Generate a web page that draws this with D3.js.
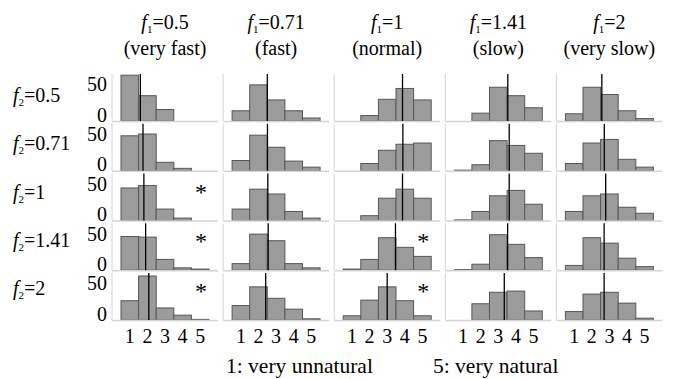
<!DOCTYPE html>
<html><head><meta charset="utf-8">
<script src="https://cdn.jsdelivr.net/npm/d3@7"></script>
</head><body style="margin:0;background:#fff"><svg id="c" width="673" height="379" style="display:block;font-family:'Liberation Serif'"></svg>
<script>
// ---- data ----
const f1Values = ["0.5", "0.71", "1", "1.41", "2"];
const f1Names = ["(very fast)", "(fast)", "(normal)", "(slow)", "(very slow)"];
const f2Values = ["0.5", "0.71", "1", "1.41", "2"];
const scores = [1, 2, 3, 4, 5];
const yTicks = [0, 50];
// counts per rating 1..5, rows = f2, cols = f1
const countsF2_05  = [[76,42,19,0,0],[17,60,35,17,5],[0,9,36,54,35],[0,13,56,42,22],[12,56,44,17,4]];
const countsF2_071 = [[58,61,14,4,0],[17,59,39,16,6],[0,12,34,44,46],[1,10,50,42,29],[12,46,52,19,6]];
const countsF2_1   = [[54,58,19,4,0],[19,52,44,15,4],[0,8,37,52,37],[1,15,41,50,27],[15,41,44,22,12]];
const countsF2_141 = [[56,55,18,4,2],[11,60,49,11,4],[2,18,54,38,23],[1,10,59,43,21],[8,54,45,20,6]];
const countsF2_2   = [[32,73,20,8,1],[24,55,36,18,2],[7,33,55,32,7],[0,27,46,48,15],[14,43,46,28,3]];
const counts = [countsF2_05, countsF2_071, countsF2_1, countsF2_141, countsF2_2];
// mean rating (vertical line) per row
const meansF2_05  = [1.60, 2.50, 3.87, 3.54, 2.57];
const meansF2_071 = [1.75, 2.51, 3.89, 3.62, 2.71];
const meansF2_1   = [1.80, 2.53, 3.87, 3.62, 2.79];
const meansF2_141 = [1.90, 2.55, 3.47, 3.53, 2.70];
const meansF2_2   = [2.08, 2.41, 3.00, 3.34, 2.70];
const means = [meansF2_05, meansF2_071, meansF2_1, meansF2_141, meansF2_2];
// significance marks [row, col]
const starCells = [[2,0],[3,0],[4,0],[3,2],[4,2]];
const captionLeft = "1: very unnatural";
const captionRight = "5: very natural";

// ---- layout ----
const FONT = '"Liberation Serif"';
const svg = d3.select("#c");
const colX = d3.scaleLinear().domain([0, 4]).range([112, 556.4]);
const rowBase = d3.scaleLinear().domain([0, 4]).range([121, 320]);
const panelH = 47, panelW = 106, barOff = 9, barsW = 88;
const FS = "20px";

function txt(sel) {
  return sel.append("text").style("font-family", FONT).style("font-size", FS).style("fill", "#000");
}

const x = d3.scaleBand().domain(scores).range([barOff, barOff + barsW]).padding(0);
const xLin = d3.scaleLinear().domain([0.5, 5.5]).range([barOff, barOff + barsW]);
const y = d3.scaleLinear().domain([0, 78]).range([panelH, 0]);

// column headers
f1Values.forEach((v, i) => {
  const cx = colX(i) + barOff + barsW / 2;
  const t = txt(svg).attr("x", cx).attr("y", 29).attr("text-anchor", "middle");
  t.append("tspan").style("font-style", "italic").text("f");
  t.append("tspan").style("font-size", "11px").attr("dy", 4).text("1");
  t.append("tspan").attr("dy", -4).text("=" + v);
  txt(svg).attr("x", cx).attr("y", 55).attr("text-anchor", "middle").text(f1Names[i]);
});

// row labels
f2Values.forEach((v, j) => {
  const t = txt(svg).attr("x", 13).attr("y", 102 + j * 48.3);
  t.append("tspan").style("font-style", "italic").text("f");
  t.append("tspan").style("font-size", "11px").attr("dy", 4).text("2");
  t.append("tspan").attr("dy", -4).text("=" + v);
});

// panels
counts.forEach((row, j) => {
  row.forEach((vals, i) => {
    const g = svg.append("g").attr("transform", `translate(${colX(i)},${rowBase(j) - panelH})`);
    g.append("line").attr("x1", 0).attr("x2", 0).attr("y1", 0).attr("y2", panelH)
      .attr("stroke", "#d4d4d4").attr("stroke-width", 1);
    g.selectAll("rect.bar").data(scores.map((s, k) => ({s, v: vals[k]})).filter(d => d.v > 0))
      .join("rect").attr("class", "bar")
      .attr("x", d => x(d.s)).attr("width", x.bandwidth())
      .attr("y", d => y(d.v)).attr("height", d => y(0) - y(d.v))
      .attr("fill", "#9b9b9b").attr("stroke", "#575757").attr("stroke-width", 1);
    g.append("line").attr("x1", 0).attr("x2", panelW).attr("y1", panelH + 0.5).attr("y2", panelH + 0.5)
      .attr("stroke", "#d4d4d4").attr("stroke-width", 1.5);
    g.append("line").attr("x1", xLin(means[j][i])).attr("x2", xLin(means[j][i]))
      .attr("y1", 0).attr("y2", panelH).attr("stroke", "#000").attr("stroke-width", 1.3);
    if (i === 0) {
      const ax = g.append("g").call(d3.axisLeft(y).tickValues(yTicks).tickSize(0).tickPadding(5).tickFormat(d3.format("d")));
      ax.select(".domain").remove();
      ax.attr("font-family", null).attr("font-size", null);
      ax.selectAll("text").attr("dy", 0).style("font-family", FONT).style("font-size", FS).style("fill", "#000");
    }
    if (j === counts.length - 1) {
      const ax = g.append("g").attr("transform", `translate(0,${panelH})`)
        .call(d3.axisBottom(x).tickSize(0).tickPadding(9));
      ax.select(".domain").remove();
      ax.attr("font-family", null).attr("font-size", null);
      ax.selectAll("text").attr("dy", "0.71em").style("font-family", FONT).style("font-size", FS).style("fill", "#000");
    }
  });
});

starCells.forEach(d => {
  txt(svg).attr("x", colX(d[1]) + 89).attr("y", rowBase(d[0]) - panelH + 26)
    .attr("text-anchor", "middle").style("font-size", "24px").text("*");
});

txt(svg).attr("x", 226).attr("y", 373).style("font-size", "21.5px").text(captionLeft);
txt(svg).attr("x", 433).attr("y", 373).style("font-size", "21.5px").text(captionRight);
</script></body></html>
